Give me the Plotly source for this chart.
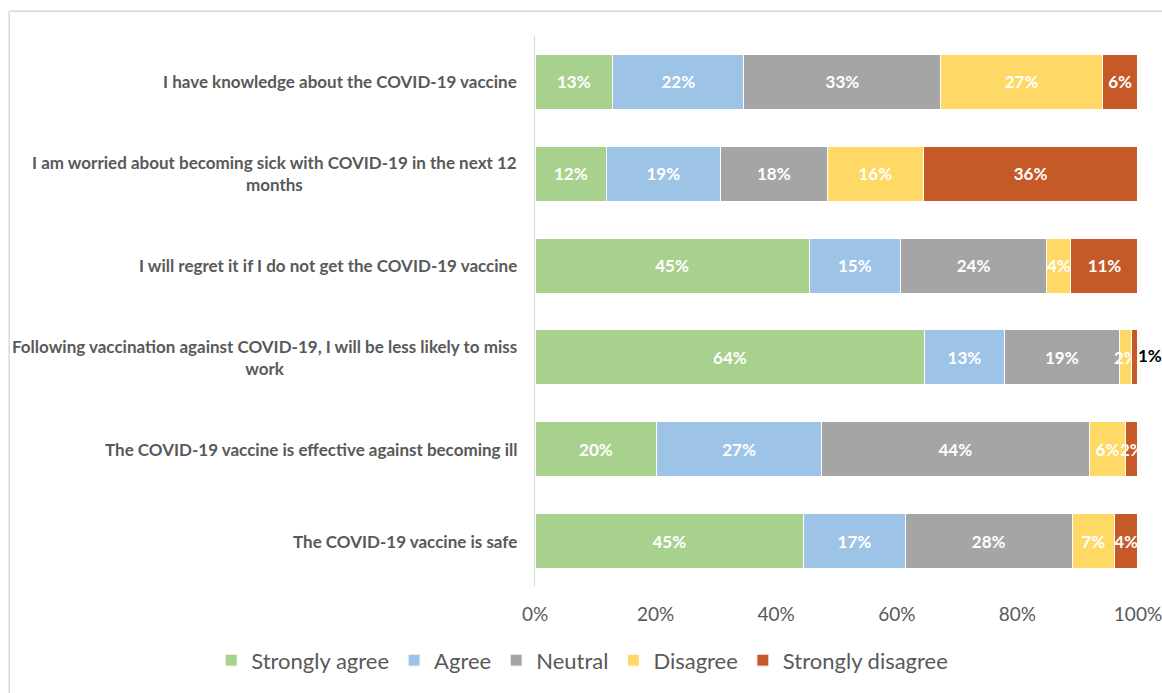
import plotly.graph_objects as go

statements = [
    "I have knowledge about the COVID-19 vaccine",
    "I am worried about becoming sick with COVID-19 in the next 12<br>months",
    "I will regret it if I do not get the COVID-19 vaccine",
    "Following vaccination against COVID-19, I will be less likely to miss<br>work",
    "The COVID-19 vaccine is effective against becoming ill",
    "The COVID-19 vaccine is safe",
]
responses = ["Strongly agree", "Agree", "Neutral", "Disagree", "Strongly disagree"]
strongly_agree = [13, 12, 45, 64, 20, 45]
agree = [22, 19, 15, 13, 27, 17]
neutral = [33, 18, 24, 19, 44, 28]
disagree = [27, 16, 4, 2, 6, 7]
strongly_disagree = [6, 36, 11, 1, 2, 4]
tick_vals = [0, 20, 40, 60, 80, 100]
tick_text = ["0%", "20%", "40%", "60%", "80%", "100%"]

series = [strongly_agree, agree, neutral, disagree, strongly_disagree]
colors = ["#A9D18E", "#9DC3E6", "#A5A5A5", "#FFD966", "#C55A28"]
FONT = "Lato, 'Open Sans', sans-serif"
GREY = "#595959"

fig = go.Figure()
ids = list(range(len(statements)))
for name, vals, col in zip(responses, series, colors):
    if name == "Strongly disagree":
        text = ["" if v <= 1 else f"{v}%" for v in vals]
    else:
        text = [f"{v}%" for v in vals]
    fig.add_trace(go.Bar(
        y=ids, x=vals, name=name, orientation="h",
        marker=dict(color=col, line=dict(color="white", width=1)),
        text=text, textposition="inside", textangle=0,
        constraintext="none", insidetextanchor="middle",
        textfont=dict(color="white", size=17, family=FONT, weight="bold"),
        cliponaxis=True,
    ))

# small end segments whose label sits outside the bar end (in black)
rows_out = [i for i, v in enumerate(strongly_disagree) if v <= 1]
row_totals = [sum(s[i] for s in series) for i in range(len(statements))]
fig.add_trace(go.Scatter(
    x=[row_totals[i] / row_totals[i] * 100 for i in rows_out],
    y=rows_out, mode="text",
    text=[f"{strongly_disagree[i]}%" for i in rows_out],
    textposition="middle right",
    textfont=dict(color="black", size=17, family=FONT, weight="bold"),
    showlegend=False, cliponaxis=False, hoverinfo="skip",
))

annotations = []
for i, s in enumerate(statements):
    annotations.append(dict(
        x=0, xref="paper", y=i, yref="y", xanchor="right", xshift=-16,
        text=f"<b>{s}</b>", showarrow=False, align="center",
        font=dict(size=17, color=GREY, family=FONT),
    ))

fig.update_layout(
    barmode="stack", barnorm="percent", bargap=0.4,
    width=1162, height=693, autosize=False,
    margin=dict(l=535, r=24, t=36, b=104),
    paper_bgcolor="white", plot_bgcolor="white",
    font=dict(family=FONT, color=GREY),
    xaxis=dict(range=[0, 100.001], tickvals=tick_vals, ticktext=tick_text,
               showgrid=False, zeroline=False, showline=False, automargin=False,
               tickfont=dict(size=19, color=GREY), ticks="",
               ticklabelstandoff=14, ticklabeloverflow="allow"),
    yaxis=dict(autorange="reversed", showticklabels=False, showgrid=False,
               zeroline=False, showline=True, linecolor="#D9D9D9", linewidth=1,
               ticks="", range=[5.5, -0.5], automargin=False),
    legend=dict(orientation="h", x=-0.537, xanchor="left", y=-0.095, yanchor="top",
                font=dict(size=22, color=GREY), traceorder="normal",
                itemwidth=30),
    annotations=annotations,
    shapes=[
        dict(type="line", xref="paper", yref="paper", x0=-0.872, x1=1.05,
             y0=1.045, y1=1.045, line=dict(color="#D9D9D9", width=1.5)),
        dict(type="line", xref="paper", yref="paper", x0=-0.872, x1=-0.872,
             y0=1.045, y1=-0.2, line=dict(color="#D9D9D9", width=1.5)),
    ],
)

fig.write_html(
    "out.html",
    config={"responsive": False, "displayModeBar": False},
    post_script="document.body.style.margin='0';document.body.style.overflow='hidden';",
)
